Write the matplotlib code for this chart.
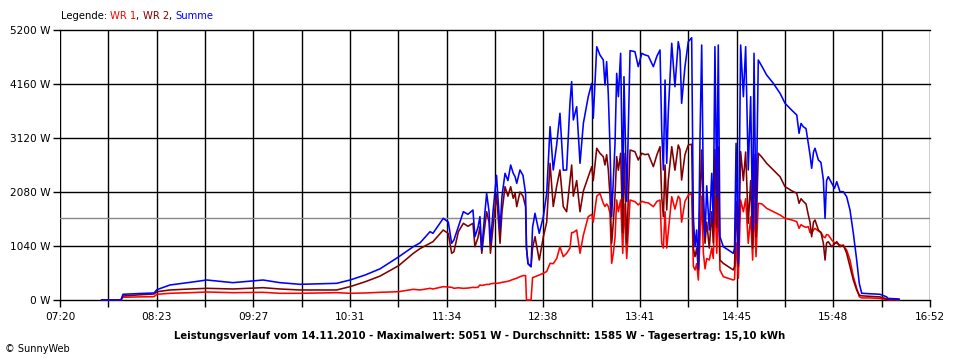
import matplotlib
matplotlib.use("Agg")
import matplotlib.pyplot as plt
import numpy as np

# ---- data (minutes since midnight, watts) ----
time_min = [467.4, 480.1, 481.4, 492.6, 501.8, 503.8, 512.3, 525.5, 536.5, 553.7,
            573.5, 584.6, 597.8, 621.9, 630.7, 640.5, 650.4, 662.6, 672.3, 676.7,
            683.3, 685.2, 692.0, 695.3, 697.5, 699.0, 701.9, 705.2, 708.2, 711.5,
            712.8, 714.8, 716.1, 717.3, 718.8, 720.5, 722.1, 723.0, 724.7, 727.0,
            729.3, 730.6, 732.6, 734.5, 736.3, 738.0, 739.2, 740.3, 742.4, 744.4,
            746.1, 746.7, 747.7, 749.7, 750.7, 752.3, 755.1, 757.8, 760.0, 762.2,
            764.3, 766.6, 768.7, 770.9, 773.1, 775.3, 776.4, 777.5, 779.7, 781.9,
            784.1, 787.3, 789.6, 790.6, 792.9, 795.0, 797.2, 798.3, 799.4, 800.5,
            801.6, 802.7, 803.8, 804.9, 806.0, 807.1, 808.6, 810.0, 810.8, 812.6,
            814.8, 818.0, 820.2, 822.5, 824.6, 826.8, 830.1, 832.5, 834.5, 835.6,
            836.7, 837.8, 838.9, 839.9, 842.2, 844.3, 846.5, 847.6, 848.7, 850.9,
            853.1, 855.3, 856.4, 857.5, 858.6, 859.7, 860.8, 861.9, 863.0, 864.1,
            865.2, 866.9, 868.5, 869.5, 870.6, 871.8, 872.8, 873.9, 876.1, 879.4,
            882.7, 883.5, 884.5, 886.0, 887.5, 889.3, 890.8, 892.5, 894.1, 895.4,
            896.3, 897.6, 899.1, 901.5, 904.6, 909.0, 913.4, 916.7, 921.3, 924.4,
            925.9, 927.2, 928.7, 930.5, 932.0, 933.1, 934.2, 935.4, 936.4, 938.6,
            940.3, 941.9, 943.0, 944.0, 945.1, 947.4, 949.2, 950.7, 952.8, 955.0,
            957.2, 959.4, 961.6, 963.8, 965.5, 967.1, 972.6, 979.1, 983.5, 984.4,
            991.6]

summe = [0, 0, 110, 125, 135, 200, 289, 340, 385, 334,
         385, 334, 302, 321, 385, 480, 600, 830, 1027, 1100,
         1316, 1284, 1573, 1500, 1092, 1156, 1412, 1701, 1650, 1733,
         1219, 1400, 1605, 963, 1500, 2055, 1700, 1090, 1700, 2400,
         1348, 2000, 2440, 2300, 2600, 2440, 2375, 2247, 2504, 2400,
         2055, 1000, 700, 642, 1400, 1670, 1284, 1605, 2055, 3338,
         2504, 3000, 3596, 2500, 2504, 3800, 4205, 3467, 3723, 2633,
         3403, 3916, 4173, 3500, 4878, 4719, 4622, 4141, 4590, 3949,
         2953, 1605, 2300, 3000, 4366, 3916, 4751, 1990, 4301, 1900,
         4802, 4783, 4494, 4751, 4720, 4700, 4494, 4700, 4815, 3274,
         2504, 4237, 2633, 3596, 4944, 4108, 4976, 4800, 3788, 4494,
         4976, 5051, 1605, 1027, 1348, 600, 3145, 4911, 2119, 1219,
         2200, 1348, 2440, 1500, 4879, 1990, 4911, 1219, 1027, 963,
         899, 1000, 3017, 706, 4911, 3916, 4879, 2504, 3916, 1348,
         4751, 1477, 4622, 4500, 4333, 4173, 3981, 3788, 3650, 3563,
         3210, 3400, 3338, 3300, 3017, 2800, 2536, 2850, 2922, 2696,
         2650, 2311, 1573, 2300, 2375, 2247, 2150, 2279, 2086, 2086,
         1990, 1733, 1284, 770, 321, 129, 120, 110, 60, 30,
         20]

wr2 = [0, 0, 77, 100, 115, 160, 193, 212, 225, 212,
       237, 212, 193, 193, 257, 350, 460, 660, 899, 990,
       1092, 1123, 1348, 1280, 899, 930, 1316, 1477, 1420, 1477,
       1027, 1200, 1412, 899, 1300, 1700, 1500, 900, 1400, 2040,
       1092, 1700, 2182, 2000, 2182, 1959, 2055, 1797, 2080, 2000,
       1797, 1000, 700, 642, 1000, 1219, 770, 1219, 1500, 2633,
       1800, 2200, 2504, 1797, 1700, 2300, 2600, 2000, 2300, 1700,
       2100, 2375, 2568, 2300, 2922, 2826, 2761, 2600, 2800, 2504,
       2000, 1092, 1500, 2000, 2761, 2500, 2826, 1300, 2826, 1100,
       2889, 2857, 2696, 2826, 2800, 2810, 2568, 2800, 2953, 1990,
       1605, 2600, 1733, 2300, 2953, 2500, 2985, 2900, 2311, 2800,
       2985, 3000, 1000, 834, 1000, 580, 1990, 2889, 1500, 1092,
       1500, 1000, 1700, 1100, 2900, 1400, 2950, 770, 706, 642,
       578, 650, 1900, 650, 2857, 2300, 2850, 1477, 2300, 1000,
       2800, 1219, 2826, 2750, 2633, 2504, 2375, 2182, 2100, 2055,
       1862, 1950, 1900, 1850, 1637, 1500, 1219, 1500, 1541, 1348,
       1300, 1092, 770, 1100, 1123, 1027, 1080, 1123, 1027, 1059,
       899, 642, 385, 193, 96, 80, 70, 60, 20, 0,
       0]

wr1 = [0, 0, 52, 60, 64, 110, 129, 141, 154, 141,
       148, 129, 129, 141, 129, 135, 148, 160, 206, 193,
       225, 212, 257, 250, 245, 225, 235, 225, 230, 244,
       240, 245, 289, 280, 290, 300, 300, 310, 320, 321,
       330, 340, 350, 360, 380, 400, 410, 420, 449, 470,
       470, 0, 0, 0, 430, 449, 481, 514, 550, 706,
       700, 800, 1027, 834, 899, 1000, 1300, 1300, 1348, 900,
       1250, 1605, 1650, 1500, 2000, 2055, 1862, 1800, 1850, 1800,
       1670, 706, 900, 1200, 1926, 1700, 1926, 900, 1850, 800,
       1926, 1894, 1830, 1900, 1880, 1870, 1797, 1900, 1926, 1092,
       1000, 1700, 1000, 1300, 1990, 1750, 2000, 1950, 1500, 1900,
       2022, 2050, 650, 578, 700, 385, 1200, 2000, 900, 600,
       800, 770, 1000, 800, 2000, 900, 2000, 578, 449, 417,
       385, 400, 1100, 420, 1926, 1700, 1950, 1092, 1600, 770,
       1900, 834, 1862, 1850, 1766, 1701, 1637, 1573, 1540, 1508,
       1380, 1450, 1420, 1400, 1412, 1300, 1284, 1350, 1380, 1330,
       1300, 1219, 1200, 1260, 1252, 1156, 1100, 1092, 1060, 1040,
       963, 770, 449, 225, 64, 40, 40, 30, 10, 0,
       0]

average_w = 1585
y_ticks = [0, 1040, 2080, 3120, 4160, 5200]
y_tick_labels = ["0 W", "1040 W", "2080 W", "3120 W", "4160 W", "5200 W"]
x_tick_labels = ["07:20", "08:23", "09:27", "10:31", "11:34", "12:38",
                 "13:41", "14:45", "15:48", "16:52"]
x_start, x_end = 440, 1012   # 07:20 .. 16:52
title = ("Leistungsverlauf vom 14.11.2010 - Maximalwert: 5051 W - "
         "Durchschnitt: 1585 W - Tagesertrag: 15,10 kWh")

# ---- figure ----
fig = plt.figure(figsize=(9.6, 3.6), dpi=100)
ax = fig.add_axes([60/960, 1-300/360, 870/960, 270/360])
ax.set_xlim(x_start, x_end)
ax.set_ylim(0, 5200)

grid_x = np.linspace(x_start, x_end, 19)
for gx in grid_x:
    ax.axvline(gx, color="black", lw=1.0, zorder=1)
for gy in y_ticks:
    ax.axhline(gy, color="black", lw=1.0, zorder=1, clip_on=False)
ax.axhline(average_w, color="#888888", lw=1.0, zorder=1.5)

ax.plot(time_min, wr1, color="#ff0000", lw=1.15, zorder=3, clip_on=False)
ax.plot(time_min, wr2, color="#800000", lw=1.15, zorder=4, clip_on=False)
ax.plot(time_min, summe, color="#0000ff", lw=1.15, zorder=5, clip_on=False)

for s in ax.spines.values():
    s.set_visible(False)

ax.set_xticks(grid_x)
ax.set_xticklabels([x_tick_labels[i // 2] if i % 2 == 0 else "" for i in range(19)])
ax.set_yticks(y_ticks)
ax.set_yticklabels(y_tick_labels)
ax.tick_params(axis="both", direction="out", length=5, width=1.0, color="black",
               labelsize=7.6)
ax.tick_params(axis="y", pad=2)
ax.tick_params(axis="x", pad=4)

# ---- texts ----
fig.text(480/960, 1-336/360, title, ha="center", va="center",
         fontsize=7.3, fontweight="bold")
fig.text(5/960, 1-349/360, "\u00a9 SunnyWeb", ha="left", va="center", fontsize=7)

renderer = fig.canvas.get_renderer()
x0 = 61/960
parts = [("Legende: ", "black"), ("WR 1", "#ff0000"), (", ", "black"),
         ("WR 2", "#800000"), (", ", "black"), ("Summe", "#0000ff")]
for txt, col in parts:
    t = fig.text(x0, 1-16/360, txt, color=col, fontsize=7.2, ha="left", va="center")
    bb = t.get_window_extent(renderer=renderer)
    x0 += bb.width / fig.bbox.width

fig.savefig("out.png", dpi=100)
